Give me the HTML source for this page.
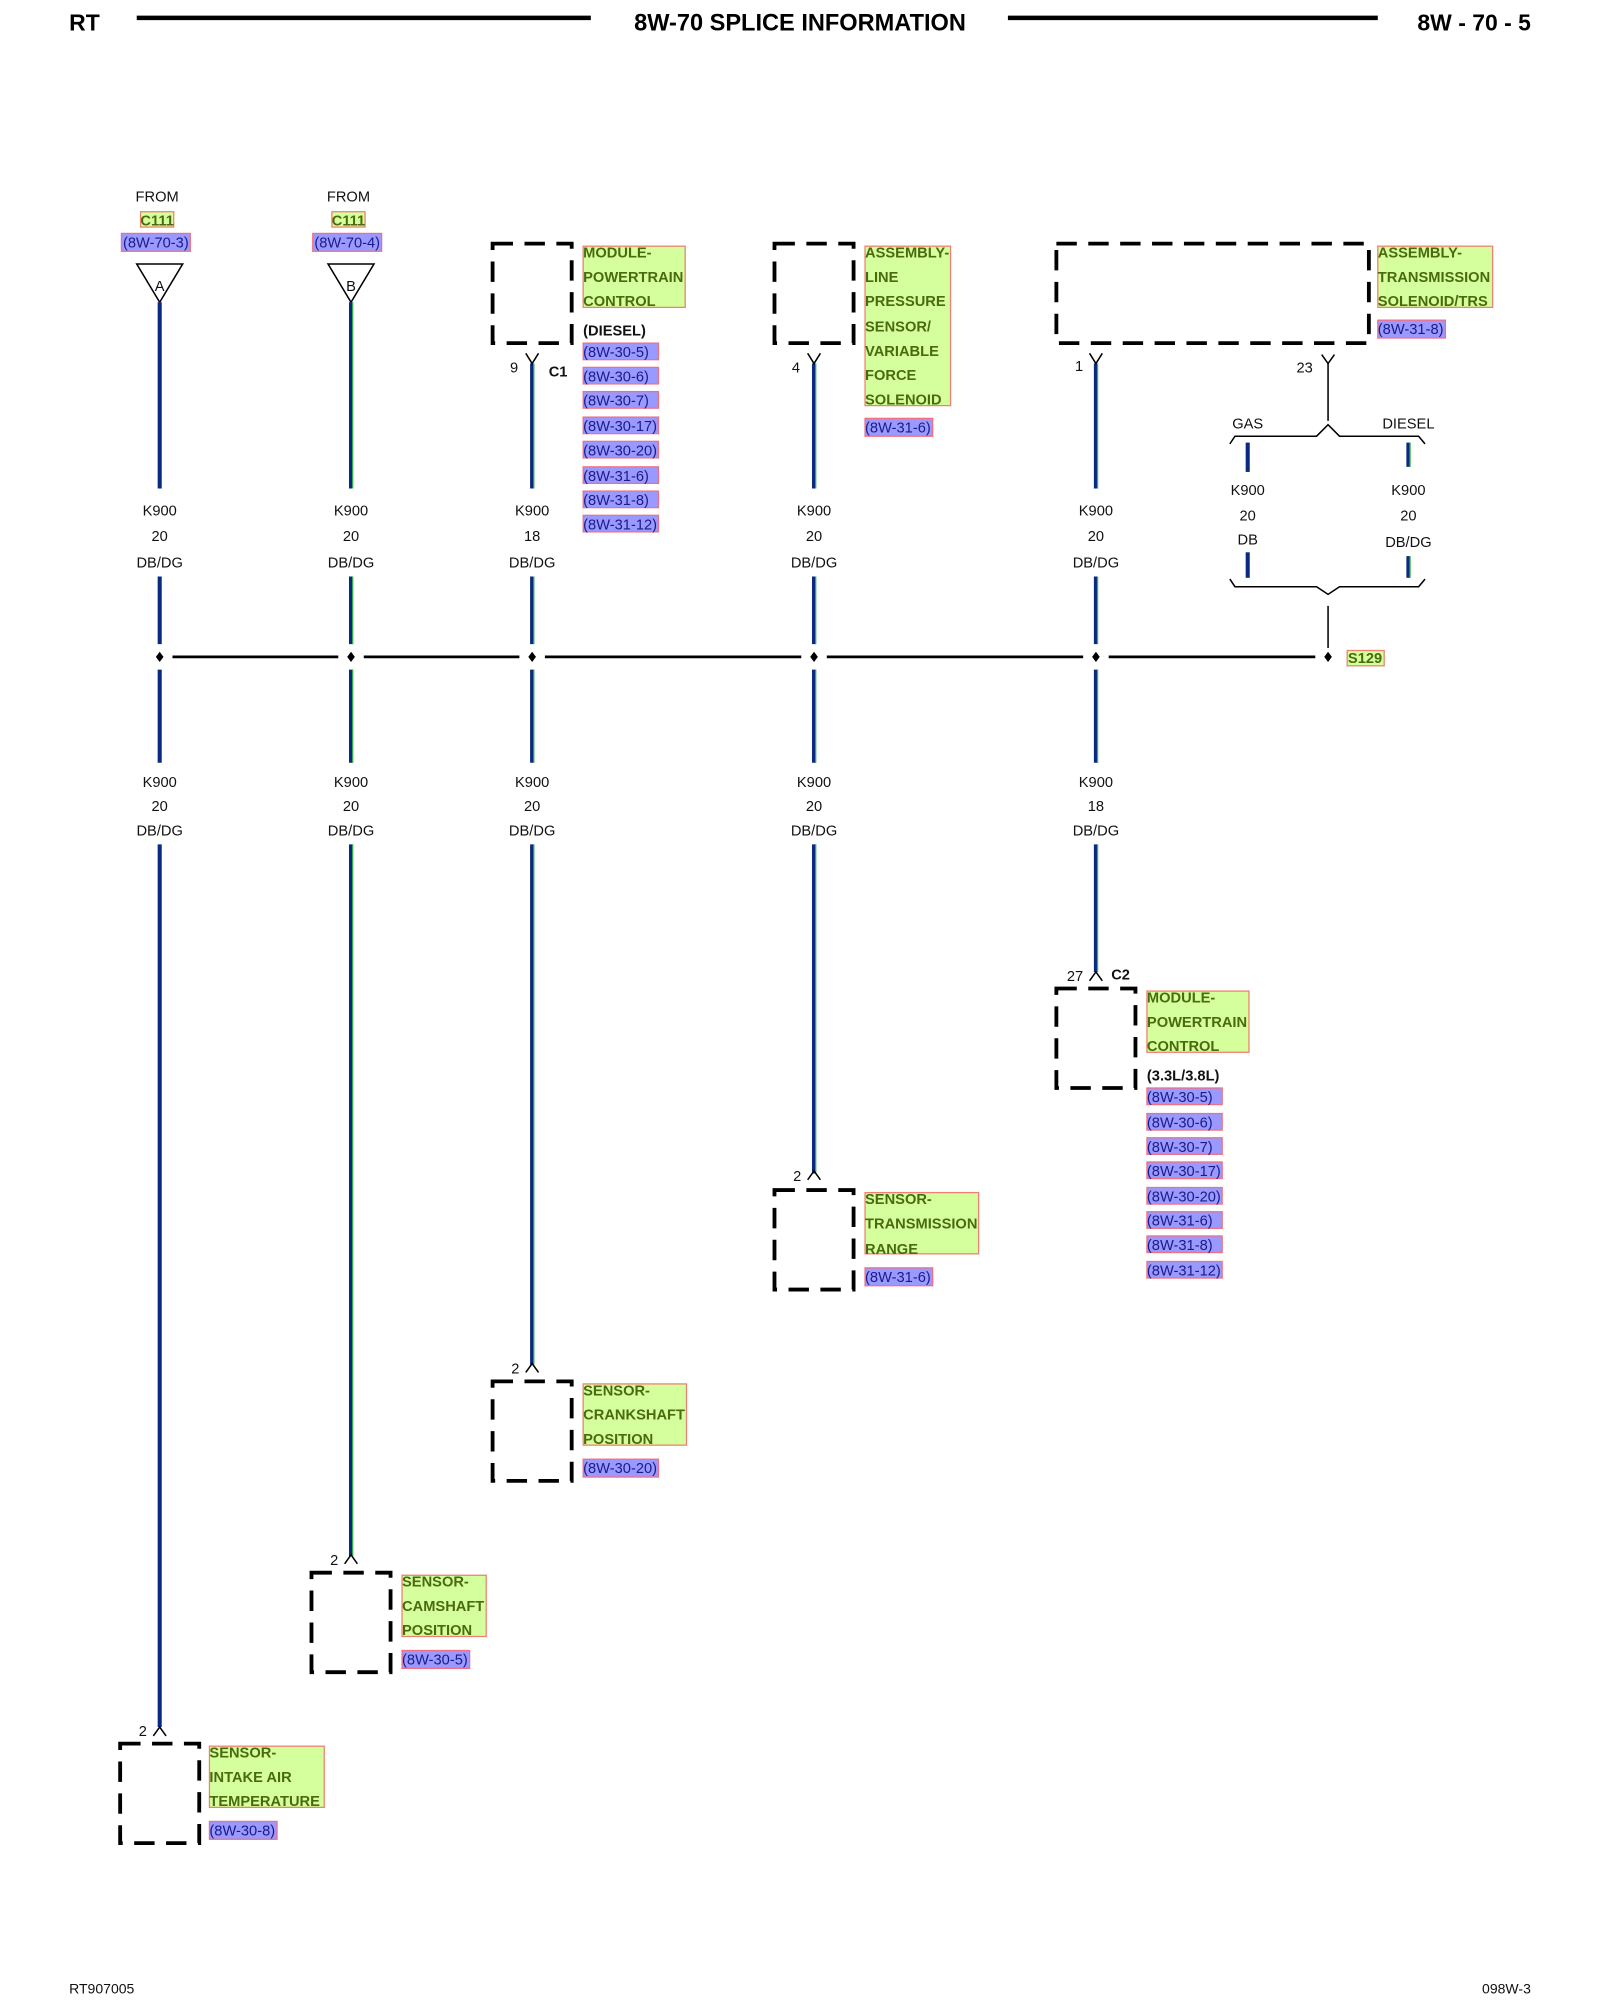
<!DOCTYPE html>
<html><head><meta charset="utf-8"><style>
html,body{margin:0;padding:0;background:#fff;width:1600px;height:2000px;overflow:hidden}
svg{display:block}
text{font-family:"Liberation Sans",sans-serif}
.t{font-size:11.5px;fill:#111}
.g{font-size:11.5px;font-weight:bold;fill:#4a6a10}
.b{font-size:11.5px;fill:#1a1a8a}
.gb{fill:#d4ff9c;stroke:#f08070;stroke-width:1}
.bb{fill:#9999ff;stroke:#f07080;stroke-width:1}
.db{fill:none;stroke:#000;stroke-width:3;stroke-dasharray:16 9}
.wb{stroke:#0a2a80;stroke-width:3.2}
.wg{stroke:#3ab04a;stroke-width:1}
.k{stroke:#000;stroke-width:1.2;fill:none}
</style></head><body>
<svg width="1600" height="2000" viewBox="0 0 1254 1568" xmlns="http://www.w3.org/2000/svg">
<!-- header -->
<text x="54" y="24" style="font-size:18px;font-weight:bold">RT</text>
<line x1="107" y1="14" x2="463" y2="14" stroke="#000" stroke-width="3.5"/>
<text x="627" y="24" text-anchor="middle" style="font-size:18.5px;font-weight:bold">8W-70 SPLICE INFORMATION</text>
<line x1="790" y1="14" x2="1080" y2="14" stroke="#000" stroke-width="3.5"/>
<text x="1200" y="24" text-anchor="end" style="font-size:18px;font-weight:bold">8W - 70 - 5</text>

<!-- FROM A / B -->
<g>
<text x="123" y="158" class="t" text-anchor="middle">FROM</text>
<rect x="110" y="166" width="26" height="12" class="gb"/><text x="123" y="177" class="g" text-anchor="middle">C111</text>
<rect x="95" y="183" width="54" height="14" class="bb"/><text x="122" y="194" class="b" text-anchor="middle">(8W-70-3)</text>
<path d="M107 207 L143 207 L125 237 Z" class="k"/><text x="125" y="228" class="t" text-anchor="middle">A</text>
<text x="273" y="158" class="t" text-anchor="middle">FROM</text>
<rect x="260" y="166" width="26" height="12" class="gb"/><text x="273" y="177" class="g" text-anchor="middle">C111</text>
<rect x="245" y="183" width="54" height="14" class="bb"/><text x="272" y="194" class="b" text-anchor="middle">(8W-70-4)</text>
<path d="M257 207 L293 207 L275 237 Z" class="k"/><text x="275" y="228" class="t" text-anchor="middle">B</text>
</g>

<!-- wires -->
<g>
<line x1="125" y1="237" x2="125" y2="383" class="wb"/>
<line x1="125" y1="452" x2="125" y2="505" class="wb"/>
<line x1="125" y1="525" x2="125" y2="598" class="wb"/>
<line x1="125" y1="662" x2="125" y2="1354" class="wb"/>
<line x1="275" y1="237" x2="275" y2="383" class="wb"/><line x1="276.3" y1="237" x2="276.3" y2="383" class="wg"/>
<line x1="275" y1="452" x2="275" y2="505" class="wb"/><line x1="276.3" y1="452" x2="276.3" y2="505" class="wg"/>
<line x1="275" y1="525" x2="275" y2="598" class="wb"/><line x1="276.3" y1="525" x2="276.3" y2="598" class="wg"/>
<line x1="275" y1="662" x2="275" y2="1220" class="wb"/><line x1="276.3" y1="662" x2="276.3" y2="1220" class="wg"/>
<line x1="417" y1="285" x2="417" y2="383" class="wb"/><line x1="418.3" y1="285" x2="418.3" y2="383" class="wg"/>
<line x1="417" y1="452" x2="417" y2="505" class="wb"/><line x1="418.3" y1="452" x2="418.3" y2="505" class="wg"/>
<line x1="417" y1="525" x2="417" y2="598" class="wb"/><line x1="418.3" y1="525" x2="418.3" y2="598" class="wg"/>
<line x1="417" y1="662" x2="417" y2="1070" class="wb"/><line x1="418.3" y1="662" x2="418.3" y2="1070" class="wg"/>
<line x1="638" y1="285" x2="638" y2="383" class="wb"/><line x1="639.3" y1="285" x2="639.3" y2="383" class="wg"/>
<line x1="638" y1="452" x2="638" y2="505" class="wb"/><line x1="639.3" y1="452" x2="639.3" y2="505" class="wg"/>
<line x1="638" y1="525" x2="638" y2="598" class="wb"/><line x1="639.3" y1="525" x2="639.3" y2="598" class="wg"/>
<line x1="638" y1="662" x2="638" y2="920" class="wb"/><line x1="639.3" y1="662" x2="639.3" y2="920" class="wg"/>
<line x1="859" y1="285" x2="859" y2="383" class="wb"/><line x1="860.3" y1="285" x2="860.3" y2="383" class="wg"/>
<line x1="859" y1="452" x2="859" y2="505" class="wb"/><line x1="860.3" y1="452" x2="860.3" y2="505" class="wg"/>
<line x1="859" y1="525" x2="859" y2="598" class="wb"/><line x1="860.3" y1="525" x2="860.3" y2="598" class="wg"/>
<line x1="859" y1="662" x2="859" y2="762" class="wb"/><line x1="860.3" y1="662" x2="860.3" y2="762" class="wg"/>
<line x1="978" y1="347" x2="978" y2="370" class="wb"/>
<line x1="978" y1="433" x2="978" y2="453" class="wb"/>
<line x1="1104" y1="347" x2="1104" y2="366" class="wb"/><line x1="1105.3" y1="347" x2="1105.3" y2="366" class="wg"/>
<line x1="1104" y1="436" x2="1104" y2="453" class="wb"/><line x1="1105.3" y1="436" x2="1105.3" y2="453" class="wg"/>
</g>

<!-- wire labels -->
<g class="t" text-anchor="middle">
<text x="125" y="404" class="t">K900</text><text x="125" y="424" class="t">20</text><text x="125" y="445" class="t">DB/DG</text>
<text x="275" y="404" class="t">K900</text><text x="275" y="424" class="t">20</text><text x="275" y="445" class="t">DB/DG</text>
<text x="417" y="404" class="t">K900</text><text x="417" y="424" class="t">18</text><text x="417" y="445" class="t">DB/DG</text>
<text x="638" y="404" class="t">K900</text><text x="638" y="424" class="t">20</text><text x="638" y="445" class="t">DB/DG</text>
<text x="859" y="404" class="t">K900</text><text x="859" y="424" class="t">20</text><text x="859" y="445" class="t">DB/DG</text>
<text x="125" y="617" class="t">K900</text><text x="125" y="636" class="t">20</text><text x="125" y="655" class="t">DB/DG</text>
<text x="275" y="617" class="t">K900</text><text x="275" y="636" class="t">20</text><text x="275" y="655" class="t">DB/DG</text>
<text x="417" y="617" class="t">K900</text><text x="417" y="636" class="t">20</text><text x="417" y="655" class="t">DB/DG</text>
<text x="638" y="617" class="t">K900</text><text x="638" y="636" class="t">20</text><text x="638" y="655" class="t">DB/DG</text>
<text x="859" y="617" class="t">K900</text><text x="859" y="636" class="t">18</text><text x="859" y="655" class="t">DB/DG</text>
<text x="978" y="388" class="t">K900</text><text x="978" y="408" class="t">20</text><text x="978" y="427" class="t">DB</text>
<text x="1104" y="388" class="t">K900</text><text x="1104" y="408" class="t">20</text><text x="1104" y="429" class="t">DB/DG</text>
<text x="978" y="336" class="t">GAS</text><text x="1104" y="336" class="t">DIESEL</text>
</g>

<!-- splice bus -->
<g>
<line x1="135" y1="515" x2="265" y2="515" stroke="#000" stroke-width="2.2"/>
<line x1="285" y1="515" x2="407" y2="515" stroke="#000" stroke-width="2.2"/>
<line x1="427" y1="515" x2="628" y2="515" stroke="#000" stroke-width="2.2"/>
<line x1="648" y1="515" x2="849" y2="515" stroke="#000" stroke-width="2.2"/>
<line x1="869" y1="515" x2="1031" y2="515" stroke="#000" stroke-width="2.2"/>
<path d="M125 511 L128 515 L125 519 L122 515Z M275 511 L278 515 L275 519 L272 515Z M417 511 L420 515 L417 519 L414 515Z M638 511 L641 515 L638 519 L635 515Z M859 511 L862 515 L859 519 L856 515Z M1041 511 L1044 515 L1041 519 L1038 515Z" fill="#000"/>
<rect x="1056" y="510" width="29" height="12" class="gb"/><text x="1070" y="520" class="g" text-anchor="middle">S129</text>
</g>

<path d="M1036 278 L1041 285 L1046 278 M1041 285 L1041 330" class="k"/>
<path d="M964 348 L968 342 L1032 342 L1041 333 L1050 342 L1112 342 L1117 348" class="k"/>
<path d="M964 454 L968 460 L1032 460 L1041 466 L1050 460 L1112 460 L1117 454" class="k"/>
<line x1="1041" y1="475" x2="1041" y2="508" class="k"/>
<text x="1029" y="292" class="t" text-anchor="end">23</text>

<path d="M412 277 L417 285 L422 277 M633 277 L638 285 L643 277 M854 277 L859 285 L864 277" class="k"/>
<text x="406" y="292" class="t" text-anchor="end">9</text>
<text x="430" y="295" class="t" style="font-weight:bold">C1</text>
<text x="627" y="292" class="t" text-anchor="end">4</text>
<text x="849" y="291" class="t" text-anchor="end">1</text>

<path d="M120 1361 L125 1354 L130 1361 M270 1226 L275 1219 L280 1226 M412 1076 L417 1069 L422 1076 M633 925 L638 918 L643 925 M854 769 L859 762 L864 769" class="k"/>
<text x="115" y="1361" class="t" text-anchor="end">2</text>
<text x="265" y="1227" class="t" text-anchor="end">2</text>
<text x="407" y="1077" class="t" text-anchor="end">2</text>
<text x="628" y="926" class="t" text-anchor="end">2</text>
<text x="849" y="769" class="t" text-anchor="end">27</text>
<text x="871" y="768" class="t" style="font-weight:bold">C2</text>

<rect x="386" y="191" width="62" height="78" class="db"/>
<rect x="607" y="191" width="62" height="78" class="db"/>
<rect x="828" y="191" width="245" height="78" class="db"/>
<rect x="828" y="775" width="62" height="78" class="db"/>
<rect x="607" y="933" width="62" height="78" class="db"/>
<rect x="386" y="1083" width="62" height="78" class="db"/>
<rect x="244" y="1233" width="62" height="78" class="db"/>
<rect x="94" y="1367" width="62" height="78" class="db"/>

<rect x="457" y="193" width="80" height="48" class="gb"/>
<text class="g"><tspan x="457" y="202">MODULE-</tspan><tspan x="457" y="221">POWERTRAIN</tspan><tspan x="457" y="240">CONTROL</tspan></text>
<text x="457" y="263" class="t" style="font-weight:bold">(DIESEL)</text>

<rect x="678" y="193" width="67" height="125" class="gb"/>
<text class="g"><tspan x="678" y="202">ASSEMBLY-</tspan><tspan x="678" y="221">LINE</tspan><tspan x="678" y="240">PRESSURE</tspan><tspan x="678" y="260">SENSOR/</tspan><tspan x="678" y="279">VARIABLE</tspan><tspan x="678" y="298">FORCE</tspan><tspan x="678" y="317">SOLENOID</tspan></text>

<rect x="1080" y="193" width="90" height="48" class="gb"/>
<text class="g"><tspan x="1080" y="202">ASSEMBLY-</tspan><tspan x="1080" y="221">TRANSMISSION</tspan><tspan x="1080" y="240">SOLENOID/TRS</tspan></text>

<rect x="899" y="777" width="80" height="48" class="gb"/>
<text class="g"><tspan x="899" y="786">MODULE-</tspan><tspan x="899" y="805">POWERTRAIN</tspan><tspan x="899" y="824">CONTROL</tspan></text>
<text x="899" y="847" class="t" style="font-weight:bold">(3.3L/3.8L)</text>

<rect x="678" y="935" width="89" height="48" class="gb"/>
<text class="g"><tspan x="678" y="944">SENSOR-</tspan><tspan x="678" y="963">TRANSMISSION</tspan><tspan x="678" y="983">RANGE</tspan></text>

<rect x="457" y="1085" width="81" height="48" class="gb"/>
<text class="g"><tspan x="457" y="1094">SENSOR-</tspan><tspan x="457" y="1113">CRANKSHAFT</tspan><tspan x="457" y="1132">POSITION</tspan></text>

<rect x="315" y="1235" width="66" height="48" class="gb"/>
<text class="g"><tspan x="315" y="1244">SENSOR-</tspan><tspan x="315" y="1263">CAMSHAFT</tspan><tspan x="315" y="1282">POSITION</tspan></text>

<rect x="164" y="1369" width="90" height="48" class="gb"/>
<text class="g"><tspan x="164" y="1378">SENSOR-</tspan><tspan x="164" y="1397">INTAKE AIR</tspan><tspan x="164" y="1416">TEMPERATURE</tspan></text>

<g>
<rect x="457" y="269" width="59" height="13" class="bb"/><text x="457" y="280" class="b">(8W-30-5)</text>
<rect x="457" y="288" width="59" height="13" class="bb"/><text x="457" y="299" class="b">(8W-30-6)</text>
<rect x="457" y="307" width="59" height="13" class="bb"/><text x="457" y="318" class="b">(8W-30-7)</text>
<rect x="457" y="327" width="59" height="13" class="bb"/><text x="457" y="338" class="b">(8W-30-17)</text>
<rect x="457" y="346" width="59" height="13" class="bb"/><text x="457" y="357" class="b">(8W-30-20)</text>
<rect x="457" y="366" width="59" height="13" class="bb"/><text x="457" y="377" class="b">(8W-31-6)</text>
<rect x="457" y="385" width="59" height="13" class="bb"/><text x="457" y="396" class="b">(8W-31-8)</text>
<rect x="457" y="404" width="59" height="13" class="bb"/><text x="457" y="415" class="b">(8W-31-12)</text>

<rect x="899" y="853" width="59" height="13" class="bb"/><text x="899" y="864" class="b">(8W-30-5)</text>
<rect x="899" y="873" width="59" height="13" class="bb"/><text x="899" y="884" class="b">(8W-30-6)</text>
<rect x="899" y="892" width="59" height="13" class="bb"/><text x="899" y="903" class="b">(8W-30-7)</text>
<rect x="899" y="911" width="59" height="13" class="bb"/><text x="899" y="922" class="b">(8W-30-17)</text>
<rect x="899" y="931" width="59" height="13" class="bb"/><text x="899" y="942" class="b">(8W-30-20)</text>
<rect x="899" y="950" width="59" height="13" class="bb"/><text x="899" y="961" class="b">(8W-31-6)</text>
<rect x="899" y="969" width="59" height="13" class="bb"/><text x="899" y="980" class="b">(8W-31-8)</text>
<rect x="899" y="989" width="59" height="13" class="bb"/><text x="899" y="1000" class="b">(8W-31-12)</text>

<rect x="678" y="328" width="53" height="14" class="bb"/><text x="678" y="339" class="b">(8W-31-6)</text>
<rect x="1080" y="251" width="53" height="14" class="bb"/><text x="1080" y="262" class="b">(8W-31-8)</text>
<rect x="678" y="994" width="53" height="14" class="bb"/><text x="678" y="1005" class="b">(8W-31-6)</text>
<rect x="457" y="1144" width="59" height="14" class="bb"/><text x="457" y="1155" class="b">(8W-30-20)</text>
<rect x="315" y="1294" width="53" height="14" class="bb"/><text x="315" y="1305" class="b">(8W-30-5)</text>
<rect x="164" y="1428" width="53" height="14" class="bb"/><text x="164" y="1439" class="b">(8W-30-8)</text>
</g>

<text x="54" y="1563" class="t" style="font-size:11px">RT907005</text>
<text x="1200" y="1563" class="t" text-anchor="end" style="font-size:11px">098W-3</text>
</svg>
</body></html>
